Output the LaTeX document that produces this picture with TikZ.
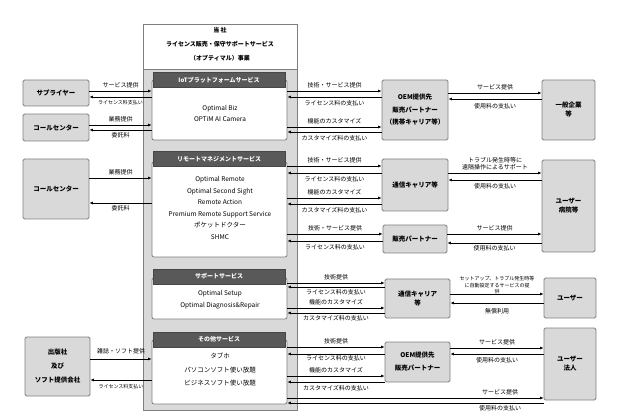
\documentclass[tikz,border=0pt]{standalone}
\usepackage{fontspec}
\setmainfont{Noto Sans CJK JP}
\usetikzlibrary{arrows.meta}
\definecolor{boxfill}{HTML}{D9D9D9}
\definecolor{boxline}{HTML}{7F7F7F}
\definecolor{hdr}{HTML}{595959}
\begin{document}
\begin{tikzpicture}[x=1pt,y=-1pt,
  gbox/.style={draw=boxline, fill=boxfill, rounded corners=1.5pt, line width=0.8pt, inner sep=0pt, align=center, font=\fontsize{6.5}{12.5}\selectfont\bfseries},
  wbox/.style={draw=boxline, fill=white, rounded corners=2pt, line width=0.8pt, inner sep=0pt},
  hbox/.style={draw=hdr!80!black, fill=hdr, text=white, inner sep=0pt, minimum width=132pt, minimum height=15pt, font=\fontsize{6}{7}\selectfont\bfseries},
  lst/.style={align=center, inner sep=0pt},
  arr/.style={-{Latex[length=3.4pt,width=2.8pt]}, line width=0.8pt},
  lb/.style={font=\fontsize{6}{7}\selectfont, inner sep=1pt},
  sl/.style={font=\fontsize{5}{6}\selectfont, inner sep=1pt}]
\useasboundingbox (0,0) rectangle (623,419);

% company
\node[draw=boxline, fill=boxfill, line width=0.8pt, minimum width=154pt, minimum height=386pt, inner sep=0pt] (co) at (220,217) {};
\node[draw=boxline, fill=white, line width=0.8pt, minimum width=154pt, minimum height=45pt, inner sep=0pt] (cotop) at (220,46.5) {};
\node[lst, font=\fontsize{6}{14}\selectfont\bfseries] (cotxt) at (220,44) {当\ 社\\ライセンス販売・保守サポートサービス\\（オプティマル）事業};

% services
\node[wbox, minimum width=135pt, minimum height=60pt] (iot) at (219.5,110) {};
\node[hbox] (iotH) at (219,80) {IoTプラットフォームサービス};
\node[lst, font=\fontsize{6.5}{11}\selectfont] (iotT) at (220,113.5) {Optimal Biz\\OPTiM AI Camera};

\node[wbox, minimum width=135pt, minimum height=95pt] (rem) at (219.5,209.5) {};
\node[hbox] (remH) at (219,159) {リモートマネジメントサービス};
\node[lst, font=\fontsize{6.5}{11.5}\selectfont] (remT) at (220,208) {Optimal Remote\\Optimal Second Sight\\Remote Action\\Premium Remote Support Service\\ポケットドクター\\SHMC};

\node[wbox, minimum width=135pt, minimum height=41pt] (sup) at (219.5,298.5) {};
\node[hbox] (supH) at (219,276.5) {サポートサービス};
\node[lst, font=\fontsize{6.5}{12}\selectfont] (supT) at (220,300) {Optimal Setup\\Optimal Diagnosis\&Repair};

\node[wbox, minimum width=135pt, minimum height=64pt] (oth) at (219.5,372) {};
\node[hbox] (othH) at (219,339.5) {その他サービス};
\node[lst, font=\fontsize{6.5}{13.5}\selectfont] (othT) at (220,369.5) {タブホ\\パソコンソフト使い放題\\ビジネスソフト使い放題};

% left boxes
\node[gbox, minimum width=66pt, minimum height=26pt] (supplier) at (56,93) {サプライヤー};
\node[gbox, minimum width=66pt, minimum height=27pt] (cc1) at (56,127.5) {コールセンター};
\node[gbox, minimum width=66pt, minimum height=60pt] (cc2) at (56,189) {コールセンター};
\node[gbox, minimum width=65pt, minimum height=59pt, font=\fontsize{6.5}{14}\selectfont\bfseries] (pub) at (57.5,366.5) {出版社\\及び\\ソフト提供会社};

% middle boxes
\node[gbox, minimum width=66pt, minimum height=60pt] (oem1) at (415,110) {OEM提供先\\販売パートナー\\（携帯キャリア等）};
\node[gbox, minimum width=66pt, minimum height=52pt] (car1) at (415,185) {通信キャリア等};
\node[gbox, minimum width=64pt, minimum height=28pt] (sp) at (415,239) {販売パートナー};
\node[gbox, minimum width=65pt, minimum height=39pt, font=\fontsize{6.5}{9.5}\selectfont\bfseries] (car2) at (417.5,298.5) {通信キャリア\\等};
\node[gbox, minimum width=65pt, minimum height=40pt, font=\fontsize{6.5}{13}\selectfont\bfseries] (oem2) at (417.5,362) {OEM提供先\\販売パートナー};

% right boxes
\node[gbox, minimum width=53pt, minimum height=60pt, font=\fontsize{6.5}{9}\selectfont\bfseries] (ent) at (568.5,110) {一般企業\\等};
\node[gbox, minimum width=53pt, minimum height=92pt, font=\fontsize{6.5}{9}\selectfont\bfseries] (usr1) at (568.5,206) {ユーザー\\病院等};
\node[gbox, minimum width=52pt, minimum height=40pt] (usr2) at (570,298) {ユーザー};
\node[gbox, minimum width=52pt, minimum height=72pt, font=\fontsize{6.5}{9}\selectfont\bfseries] (usr3) at (570,364) {ユーザー\\法人};

% left arrows
\draw[arr] (supplier.east |- 0,91) -- node[lb,above=1.5pt]{サービス提供} (iot.west |- 0,91);
\draw[arr] (iot.west |- 0,97) -- node[sl,below=1.5pt]{ライセンス料支払い} (supplier.east |- 0,97);
\draw[arr] (cc1.east |- 0,125) -- node[lb,above=1.5pt]{業務提供} (iot.west |- 0,125);
\draw[arr] (iot.west |- 0,130) -- node[lb,below=1.5pt]{委託料} (cc1.east |- 0,130);
\draw[arr] (cc2.east |- 0,178) -- node[lb,above=1.5pt]{業務提供} (rem.west |- 0,178);
\draw[arr] (rem.west |- 0,203) -- node[lb,below=1.5pt]{委託料} (cc2.east |- 0,203);
\draw[arr] (pub.east |- 0,359) -- node[lb,above=4pt]{雑誌・ソフト提供} (oth.west |- 0,359);
\draw[arr] (oth.west |- 0,380) -- node[sl,below=3pt]{ライセンス料支払い} (pub.east |- 0,380);

% IoT middle
\draw[arr] (iot.east |- 0,91) -- node[lb,above=2pt]{技術・サービス提供} (oem1.west |- 0,91);
\draw[arr] (oem1.west |- 0,97) -- node[lb,below=2pt]{ライセンス料の支払い} (iot.east |- 0,97);
\draw[arr] (iot.east |- 0,127) -- node[lb,above=1.5pt]{機能のカスタマイズ} (oem1.west |- 0,127);
\draw[arr] (oem1.west |- 0,132) -- node[lb,below=2pt]{カスタマイズ料の支払い} (iot.east |- 0,132);

% Remote middle
\draw[arr] (rem.east |- 0,166) -- node[lb,above=1.5pt]{技術・サービス提供} (car1.west |- 0,166);
\draw[arr] (car1.west |- 0,173) -- node[lb,below=2pt]{ライセンス料の支払い} (rem.east |- 0,173);
\draw[arr] (rem.east |- 0,198) -- node[lb,above=1.5pt]{機能のカスタマイズ} (car1.west |- 0,198);
\draw[arr] (car1.west |- 0,204) -- node[lb,below=2pt]{カスタマイズ料の支払い} (rem.east |- 0,204);
\draw[arr] (rem.east |- 0,234) -- node[lb,above=2pt]{技術・サービス提供} (sp.west |- 0,234);
\draw[arr] (sp.west |- 0,241) -- node[lb,below=2pt]{ライセンス料の支払い} (rem.east |- 0,241);

% Support middle
\draw[arr] (sup.east |- 0,283) -- node[lb,above=1.5pt]{技術提供} (car2.west |- 0,283);
\draw[arr] (car2.west |- 0,287) -- node[lb,below=1.5pt]{ライセンス料の支払い} (sup.east |- 0,287);
\draw[arr] (sup.east |- 0,308) -- node[lb,above=1.5pt]{機能のカスタマイズ} (car2.west |- 0,308);
\draw[arr] (car2.west |- 0,313) -- node[lb,below=1.5pt]{カスタマイズ料の支払い} (sup.east |- 0,313);

% Other middle
\draw[arr] (oth.east |- 0,347) -- node[lb,above=1.5pt]{技術提供} (oem2.west |- 0,347);
\draw[arr] (oem2.west |- 0,354) -- node[lb,below=0.5pt]{ライセンス料の支払い} (oth.east |- 0,354);
\draw[arr] (oth.east |- 0,376) -- node[lb,above=1.5pt]{機能のカスタマイズ} (oem2.west |- 0,376);
\draw[arr] (oem2.west |- 0,382) -- node[lb,below=2pt]{カスタマイズ料の支払い} (oth.east |- 0,382);
\draw[arr] (oth.east |- 0,398) -- node[lb,above=1.5pt,pos=0.83]{サービス提供} (usr3.west |- 0,398);
\draw[arr] (usr3.west |- 0,403) -- node[lb,below=1.5pt,pos=0.17]{使用料の支払い} (oth.east |- 0,403);

% right arrows
\draw[arr] (oem1.east |- 0,93) -- node[lb,above=2pt]{サービス提供} (ent.west |- 0,93);
\draw[arr] (ent.west |- 0,99) -- node[lb,below=3pt]{使用料の支払い} (oem1.east |- 0,99);
\draw[arr] (car1.east |- 0,173) -- node[lb,above=1.5pt,align=center]{トラブル発生時等に\\遠隔操作によるサポート} (usr1.west |- 0,173);
\draw[arr] (usr1.west |- 0,180) -- node[lb,below=2pt]{使用料の支払い} (car1.east |- 0,180);
\draw[arr] (sp.east |- 0,234) -- node[lb,above=2pt]{サービス提供} (usr1.west |- 0,234);
\draw[arr] (usr1.west |- 0,243) -- node[lb,below=1pt]{使用料の支払い} (sp.east |- 0,243);
\draw[arr] (car2.east |- 0,294) -- (usr2.west |- 0,294);
\node[sl, align=center, font=\fontsize{5}{6.5}\selectfont] (setupLbl) at (497,285.5) {セットアップ、トラブル発生時等\\に自動設定するサービスの提\\供};
\draw[arr] (usr2.west |- 0,303) -- node[lb,below=4pt]{無償利用} (car2.east |- 0,303);
\draw[arr] (oem2.east |- 0,348) -- node[lb,above=2pt]{サービス提供} (usr3.west |- 0,348);
\draw[arr] (usr3.west |- 0,354) -- node[lb,below=2pt]{使用料の支払い} (oem2.east |- 0,354);
\end{tikzpicture}
\end{document}
